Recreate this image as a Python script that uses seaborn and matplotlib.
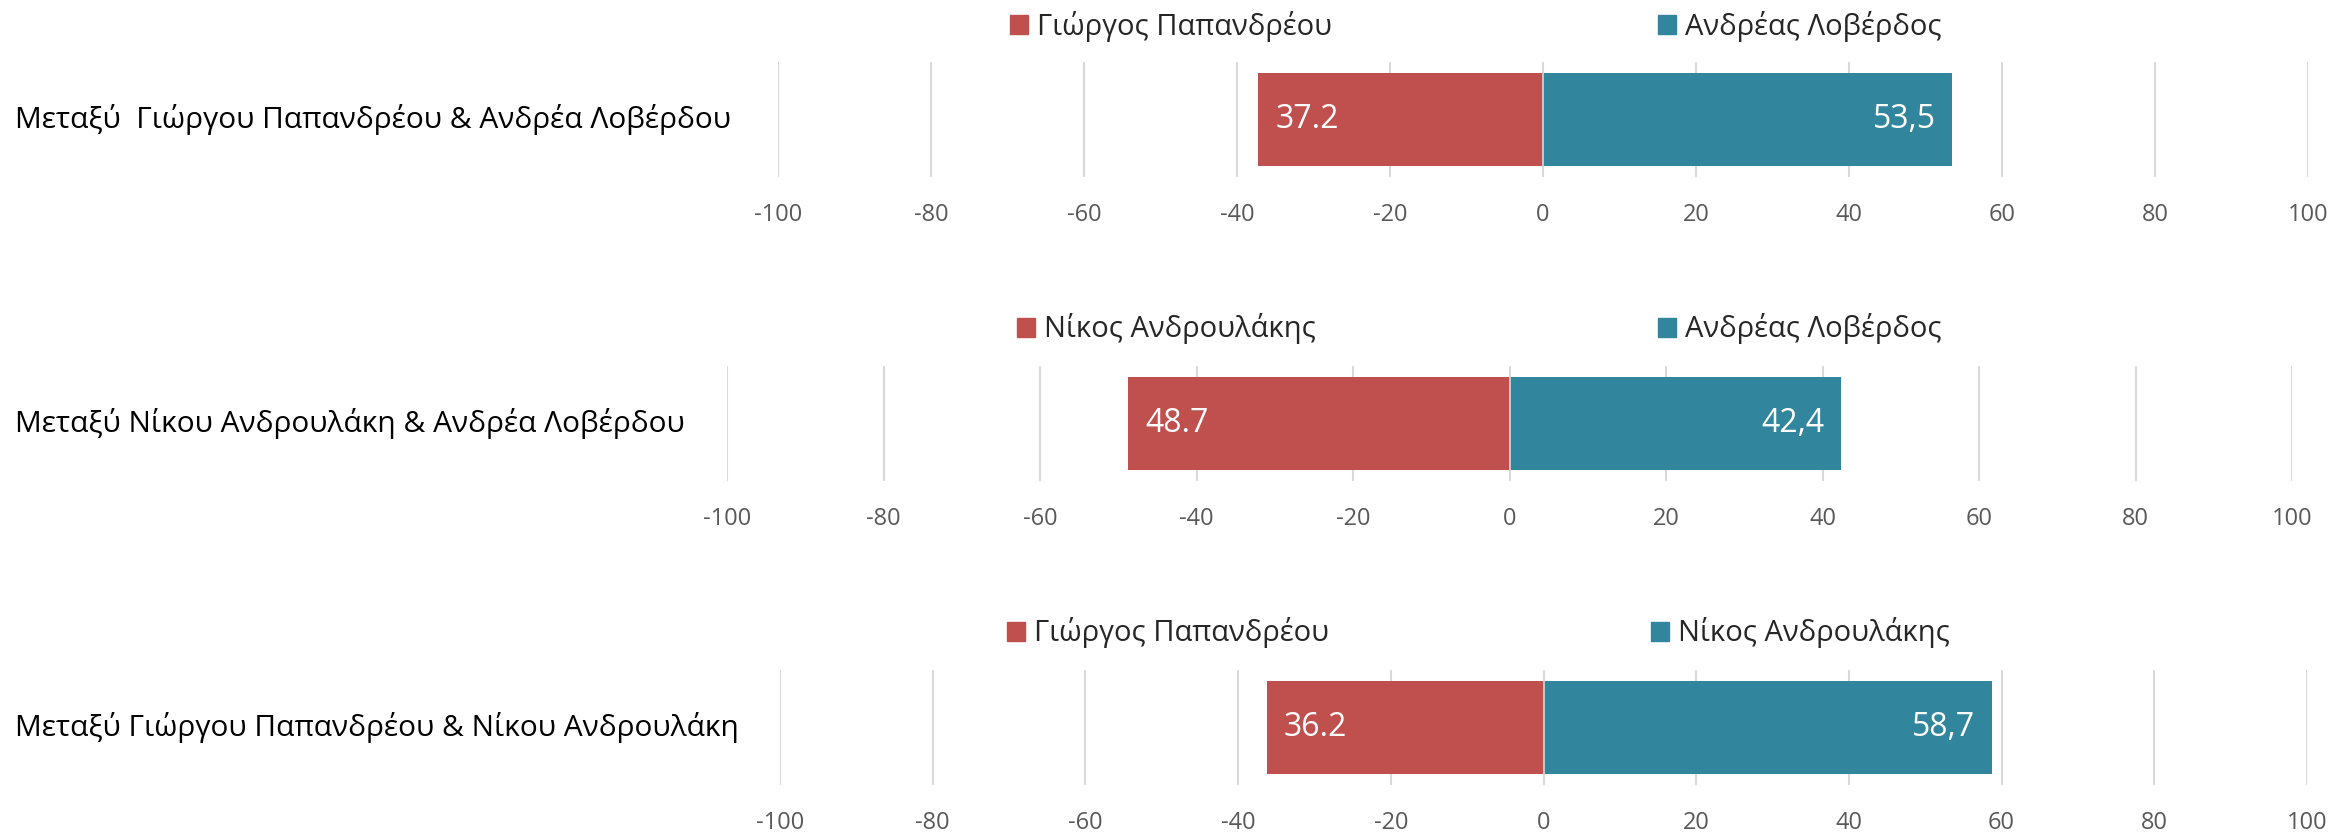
import matplotlib
matplotlib.use("Agg")
import matplotlib.pyplot as plt
import matplotlib.patches as mpatches
import seaborn as sns
import pandas as pd

sns.set_theme(style="white")
plt.rcParams['font.family'] = ['Open Sans', 'DejaVu Sans']
plt.rcParams['axes.unicode_minus'] = False

# ---- data ----
categories = [
    "Μεταξύ  Γιώργου Παπανδρέου & Ανδρέα Λοβέρδου",
    "Μεταξύ Νίκου Ανδρουλάκη & Ανδρέα Λοβέρδου",
    "Μεταξύ Γιώργου Παπανδρέου & Νίκου Ανδρουλάκη",
]
left_names = ["Γιώργος Παπανδρέου", "Νίκος Ανδρουλάκης", "Γιώργος Παπανδρέου"]
right_names = ["Ανδρέας Λοβέρδος", "Ανδρέας Λοβέρδος", "Νίκος Ανδρουλάκης"]
left_values = [37.2, 48.7, 36.2]
right_values = [53.5, 42.4, 58.7]
left_labels = ["37.2", "48.7", "36.2"]
right_labels = ["53,5", "42,4", "58,7"]
tick_values = [-100, -80, -60, -40, -20, 0, 20, 40, 60, 80, 100]
tick_labels = ["-100", "-80", "-60", "-40", "-20", "0", "20", "40", "60", "80", "100"]

RED = "#C0504D"
TEAL = "#31859C"
GRID = "#D9D9D9"
TICK = "#595959"

W, H = 2336, 832
fig = plt.figure(figsize=(W / 100, H / 100), dpi=100)

# panel geometry in pixels: (x_left, x_right, y_top, y_bottom)
panels = [(778, 2308, 62, 177), (727, 2292, 366, 481), (780, 2307, 670, 785)]
legend_red_x = [1010, 1017, 1007]
legend_teal_x = [1658, 1658, 1651]
legend_y = [26, 329, 633]

for i, (xl, xr, yt, yb) in enumerate(panels):
    ax = fig.add_axes([xl / W, 1 - yb / H, (xr - xl) / W, (yb - yt) / H])
    df = pd.DataFrame({
        "value": [-left_values[i], right_values[i]],
        "name": [left_names[i], right_names[i]],
        "cat": [categories[i], categories[i]],
    })
    sns.barplot(data=df, x="value", y="cat", hue="name",
                hue_order=[left_names[i], right_names[i]],
                palette=[RED, TEAL], dodge=False, orient="h", width=0.81,
                ax=ax, legend=False, saturation=1, linewidth=0)
    ax.set_xlim(-100, 100)
    ax.set_ylim(0.5, -0.5)
    ax.set_xticks(tick_values)
    ax.set_xticklabels(tick_labels)
    ax.set_yticks([])
    ax.set_xlabel("")
    ax.set_ylabel("")
    ax.grid(axis="x", color=GRID, lw=1.5)
    ax.grid(axis="y", visible=False)
    ax.set_axisbelow(True)
    ax.axvline(0, color=GRID, lw=1.2, zorder=3)
    for s in ax.spines.values():
        s.set_visible(False)
    ax.tick_params(axis="x", length=0, pad=19, labelsize=17, labelcolor=TICK)

    # data labels
    ax.annotate(left_labels[i], xy=(-left_values[i], 0), xytext=(12, 0),
                textcoords="offset points", ha="left", va="center",
                color="white", fontsize=23, zorder=5)
    ax.annotate(right_labels[i], xy=(right_values[i], 0), xytext=(-12, 0),
                textcoords="offset points", ha="right", va="center",
                color="white", fontsize=23, zorder=5)

    # category label
    fig.text(15 / W, 1 - (yt + yb) / 2 / H, categories[i], ha="left",
             va="center", fontsize=21.5, color="black")

    # legends
    for name, col, lx in [(left_names[i], RED, legend_red_x[i]),
                          (right_names[i], TEAL, legend_teal_x[i])]:
        fig.legend(handles=[mpatches.Patch(color=col, label=name)],
                   loc="center left",
                   bbox_to_anchor=(lx / W, 1 - legend_y[i] / H),
                   frameon=False, fontsize=21, borderpad=0, borderaxespad=0,
                   handlelength=0.62, handleheight=0.62, handletextpad=0.3)

fig.savefig("out.png", dpi=100)
